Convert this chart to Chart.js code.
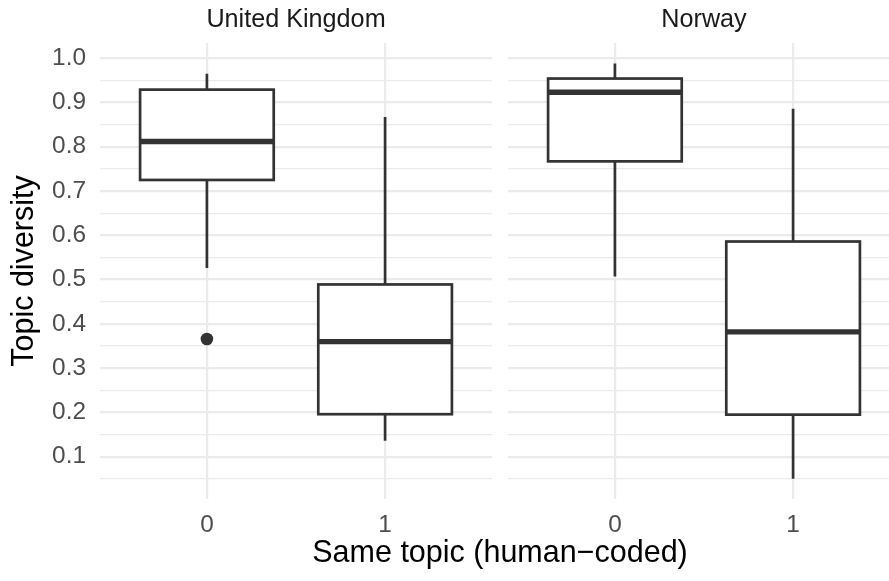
<!DOCTYPE html>
<html lang="en">
<head>
  <meta charset="UTF-8">
  <title>topic diversity</title>
  <script src="https://cdn.jsdelivr.net/npm/chart.js"></script>
  <style>
    body { margin: 0; background: #fff; }
    #wrap { position: relative; width: 889px; height: 581px; overflow: hidden; }
    canvas { position: absolute; top: 0; }
    #left { left: 0; }
    #right { left: 508px; }
    #xtitle {
      position: absolute; left: 100px; width: 800px; top: 534px;
      line-height: 36px; text-align: center;
      font: 30.5px "Liberation Sans", Arial, sans-serif; color: #000;
    }
  </style>
</head>
<body>
  <div id="wrap">
    <canvas id="left" width="492" height="581"></canvas>
    <canvas id="right" width="392" height="581"></canvas>
    <div id="xtitle">Same topic (human−coded)</div>
  </div>

  <script>
    const categories = ['0', '1']
    const panels = ['United Kingdom', 'Norway']

    // five-number summaries, one value per category
    const ukLower  = [0.526, 0.136]
    const ukQ1     = [0.725, 0.196]
    const ukMedian = [0.812, 0.360]
    const ukQ3     = [0.929, 0.489]
    const ukUpper  = [0.965, 0.867]
    const ukOutliers = [{ x: 0, y: 0.366 }]

    const noLower  = [0.507, 0.050]
    const noQ1     = [0.767, 0.195]
    const noMedian = [0.923, 0.382]
    const noQ3     = [0.954, 0.586]
    const noUpper  = [0.988, 0.886]
    const noOutliers = []

    const yTicks = [0.05, 0.1, 0.15, 0.2, 0.25, 0.3, 0.35, 0.4, 0.45, 0.5,
                    0.55, 0.6, 0.65, 0.7, 0.75, 0.8, 0.85, 0.9, 0.95, 1.0]
    const yTickLabels = ['0.1', '0.2', '0.3', '0.4', '0.5', '0.6', '0.7', '0.8', '0.9', '1.0']

    const FONT = '"Liberation Sans", Arial, sans-serif'
    const GRID = '#EBEBEB'
    const INK = '#333333'

    const isMajor = v => yTickLabels.includes(v.toFixed(1)) && Math.abs(v * 10 - Math.round(v * 10)) < 1e-6

    const boxplotPlugin = {
      id: 'boxplot',
      beforeDatasetsDraw(chart, args, opts) {
        const { ctx } = chart
        const xs = chart.scales.x, ys = chart.scales.y
        const half = (xs.getPixelForValue(0.75) - xs.getPixelForValue(0)) / 2
        ctx.save()
        ctx.strokeStyle = INK
        ctx.lineCap = 'butt'
        opts.q1.forEach((q1, i) => {
          const cx = xs.getPixelForValue(i)
          const yLo = ys.getPixelForValue(opts.lower[i])
          const yQ1 = ys.getPixelForValue(q1)
          const yMed = ys.getPixelForValue(opts.median[i])
          const yQ3 = ys.getPixelForValue(opts.q3[i])
          const yHi = ys.getPixelForValue(opts.upper[i])
          ctx.lineWidth = 2.7
          ctx.beginPath()
          ctx.moveTo(cx, yHi); ctx.lineTo(cx, yQ3)
          ctx.moveTo(cx, yQ1); ctx.lineTo(cx, yLo)
          ctx.stroke()
          ctx.fillStyle = '#fff'
          ctx.fillRect(cx - half, yQ3, 2 * half, yQ1 - yQ3)
          ctx.strokeRect(cx - half, yQ3, 2 * half, yQ1 - yQ3)
          ctx.lineWidth = 5.4
          ctx.beginPath()
          ctx.moveTo(cx - half, yMed); ctx.lineTo(cx + half, yMed)
          ctx.stroke()
        })
        ctx.restore()
      }
    }

    function makeChart(id, title, stats, outliers, showY) {
      return new Chart(document.getElementById(id), {
        type: 'scatter',
        data: {
          datasets: [{
            data: outliers,
            pointRadius: 6.3,
            pointHoverRadius: 6.3,
            backgroundColor: INK,
            borderWidth: 0
          }]
        },
        plugins: [boxplotPlugin],
        options: {
          responsive: false,
          animation: false,
          events: [],
          layout: { padding: 0, autoPadding: false },
          plugins: {
            legend: { display: false },
            tooltip: { enabled: false },
            boxplot: stats,
            title: {
              display: true,
              text: title,
              fullSize: false,
              color: '#1A1A1A',
              font: { family: FONT, size: 25.2, weight: 'normal', lineHeight: 1.2 },
              padding: { top: 4.5, bottom: 8.26 }
            }
          },
          scales: {
            x: {
              type: 'linear',
              min: -0.6,
              max: 1.6,
              afterBuildTicks: axis => { axis.ticks = categories.map((c, i) => ({ value: i })) },
              afterFit: axis => {
                axis.height = 82
                axis.paddingLeft = 0
                axis.paddingRight = 0
              },
              grid: { color: GRID, lineWidth: 2.2, drawTicks: false },
              border: { display: false },
              ticks: {
                callback: v => categories[v],
                color: '#4D4D4D',
                padding: 12,
                maxRotation: 0,
                font: { family: FONT, size: 24.4, lineHeight: 1.2 }
              }
            },
            y: {
              type: 'linear',
              min: 0.0045,
              max: 1.0343,
              afterBuildTicks: axis => { axis.ticks = yTicks.map(v => ({ value: v })) },
              afterFit: axis => {
                axis.width = showY ? 100 : 0
                axis.paddingTop = 0
                axis.paddingBottom = 0
              },
              grid: {
                color: GRID,
                drawTicks: false,
                lineWidth: c => (c.tick && isMajor(c.tick.value)) ? 2.2 : 1.2
              },
              border: { display: false },
              title: {
                display: showY,
                text: 'Topic diversity',
                color: '#000',
                font: { family: FONT, size: 30.5, lineHeight: 1.2 },
                padding: { top: 6.7, bottom: 0 }
              },
              ticks: {
                display: showY,
                autoSkip: false,
                callback: v => isMajor(v) ? v.toFixed(1) : '',
                color: '#4D4D4D',
                padding: 14,
                font: { family: FONT, size: 24.4, lineHeight: 1.2 }
              }
            }
          }
        }
      })
    }

    makeChart('left', panels[0],
      { lower: ukLower, q1: ukQ1, median: ukMedian, q3: ukQ3, upper: ukUpper },
      ukOutliers, true)
    makeChart('right', panels[1],
      { lower: noLower, q1: noQ1, median: noMedian, q3: noQ3, upper: noUpper },
      noOutliers, false)
  </script>
</body>
</html>
